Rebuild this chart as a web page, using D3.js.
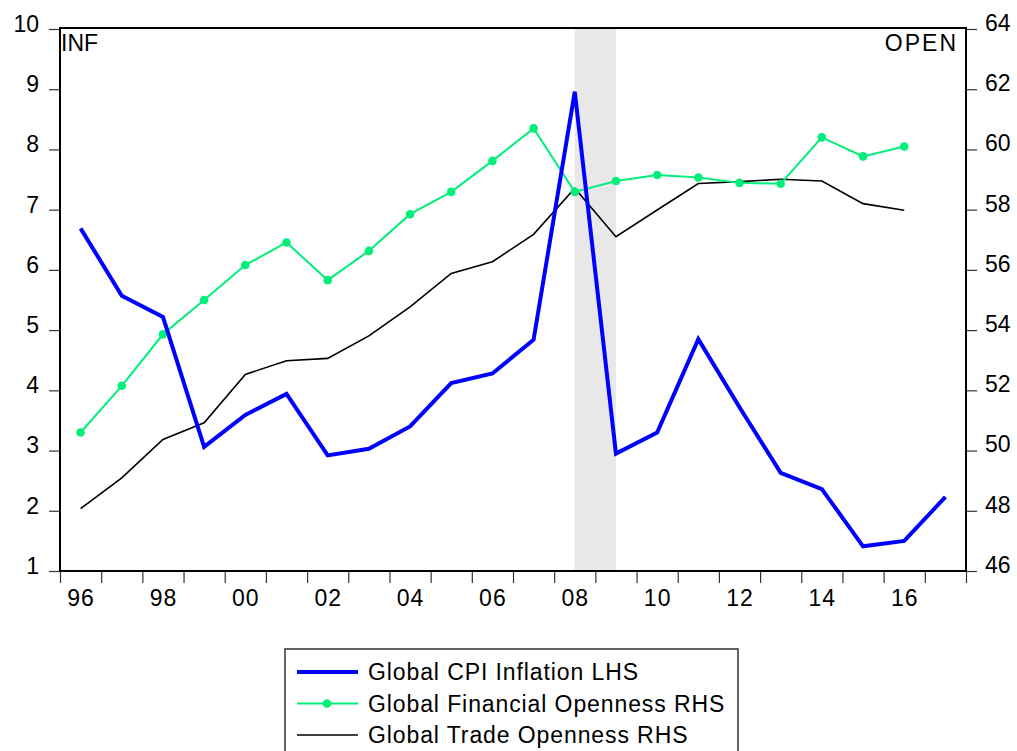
<!DOCTYPE html>
<html>
<head>
<meta charset="utf-8">
<script src="https://cdn.jsdelivr.net/npm/d3@7"></script>
<style>
  body { margin: 0; background: #fff; }
  svg text { font-family: "Liberation Sans", Arial, sans-serif; fill: #000; }
</style>
</head>
<body>
<div id="chart"></div>
<script>
const width = 1017;
const height = 751;

// data
const years = d3.range(1996, 2018);
const cpiInflation = [6.69, 5.57, 5.22, 3.06, 3.59, 3.94, 2.92, 3.03, 3.40, 4.12, 4.28, 4.84,
  8.96, 2.95, 3.30, 4.85, 3.72, 2.63, 2.36, 1.41, 1.50, 2.23];
const finOpenness = [50.60, 52.15, 53.86, 55.00, 56.16, 56.91, 55.66, 56.63, 57.85, 58.59, 59.62, 60.70,
  58.59, 58.95, 59.15, 59.07, 58.89, 58.86, 60.40, 59.77, 60.10];
const tradeOpenness = [48.07, 49.09, 50.37, 50.92, 52.53, 52.98, 53.06, 53.81, 54.77, 55.88, 56.27, 57.18,
  58.71, 57.10, 57.99, 58.87, 58.93, 59.01, 58.95, 58.20, 57.98];
const recession = [2008, 2009];
const leftTicks = d3.range(1, 11);
const rightTicks = d3.range(46, 65, 2);
const xLabelYears = d3.range(1996, 2017, 2);
const legendLabels = ["Global CPI Inflation LHS", "Global Financial Openness RHS", "Global Trade Openness RHS"];

const plot = { left: 60, right: 966, top: 28, bottom: 571 };
const fontSize = "23px";

const svg = d3.select("#chart")
  .append("svg")
  .attr("width", width)
  .attr("height", height);

// year i covers [i, i+1], the point sits in the middle
const x = d3.scaleLinear().domain([1996, 2018]).range([plot.left, plot.right]);
const yL = d3.scaleLinear().domain([1, 10]).range([plot.bottom, plot.top + 1]);
const yR = d3.scaleLinear().domain([46, 64]).range([plot.bottom, plot.top + 1]);

// shaded period
svg.append("rect")
  .attr("x", x(recession[0] + 0.5))
  .attr("y", plot.top)
  .attr("width", x(recession[1] + 0.5) - x(recession[0] + 0.5))
  .attr("height", plot.bottom - plot.top)
  .attr("fill", "#e8e8e8");

// axes
const leftAxis = svg.append("g")
  .attr("transform", `translate(${plot.left},0)`)
  .call(d3.axisLeft(yL).tickValues(leftTicks).tickSize(11).tickPadding(10).tickFormat(d3.format("d")));
leftAxis.selectAll("text").attr("y", -5).style("font-size", fontSize);

const rightAxis = svg.append("g")
  .attr("transform", `translate(${plot.right},0)`)
  .call(d3.axisRight(yR).tickValues(rightTicks).tickSize(11).tickPadding(8).tickFormat(d3.format("d")));
rightAxis.selectAll("text").attr("y", -6).style("font-size", fontSize);

const bottomAxis = svg.append("g")
  .attr("transform", `translate(0,${plot.bottom})`)
  .call(d3.axisBottom(x).tickValues(d3.range(1996, 2019)).tickSize(12).tickFormat(""));

const labelAxis = svg.append("g")
  .attr("transform", `translate(0,${plot.bottom})`)
  .call(d3.axisBottom(x).tickValues(xLabelYears.map(d => d + 0.5)).tickSize(0).tickPadding(19)
    .tickFormat(d => String(Math.floor(d) % 100).padStart(2, "0")));
labelAxis.selectAll("text").style("font-size", fontSize).style("letter-spacing", "1px");
labelAxis.select(".domain").remove();

[leftAxis, rightAxis, bottomAxis].forEach(g => {
  g.select(".domain").remove();
  g.selectAll(".tick line").attr("stroke", "#333").attr("stroke-width", 1.2);
});

// frame
svg.append("rect")
  .attr("x", plot.left)
  .attr("y", plot.top)
  .attr("width", plot.right - plot.left)
  .attr("height", plot.bottom - plot.top)
  .attr("fill", "none")
  .attr("stroke", "#000")
  .attr("stroke-width", 2);

svg.append("text").attr("x", plot.left + 1).attr("y", 51).style("font-size", fontSize).text("INF");
svg.append("text").attr("x", plot.right - 8).attr("y", 51).attr("text-anchor", "end")
  .style("font-size", fontSize).style("letter-spacing", "2px").text("OPEN");

// lines
const lineL = d3.line().x((d, i) => x(years[i] + 0.5)).y(d => yL(d));
const lineR = d3.line().x((d, i) => x(years[i] + 0.5)).y(d => yR(d));

svg.append("path")
  .datum(tradeOpenness)
  .attr("d", lineR)
  .attr("fill", "none")
  .attr("stroke", "#000")
  .attr("stroke-width", 1.6);

svg.append("path")
  .datum(finOpenness)
  .attr("d", lineR)
  .attr("fill", "none")
  .attr("stroke", "#00ee7a")
  .attr("stroke-width", 2);

svg.append("g")
  .selectAll("circle")
  .data(finOpenness)
  .enter().append("circle")
  .attr("cx", (d, i) => x(years[i] + 0.5))
  .attr("cy", d => yR(d))
  .attr("r", 4.3)
  .attr("fill", "#00ee7a");

svg.append("path")
  .datum(cpiInflation)
  .attr("d", lineL)
  .attr("fill", "none")
  .attr("stroke", "#0000ff")
  .attr("stroke-width", 4);

// legend
const legend = svg.append("g");
legend.append("rect")
  .attr("x", 285)
  .attr("y", 649)
  .attr("width", 453)
  .attr("height", 120)
  .attr("fill", "#fff")
  .attr("stroke", "#333")
  .attr("stroke-width", 1.5);

const legendStyle = [
  { color: "#0000ff", w: 4, dot: false },
  { color: "#00ee7a", w: 2, dot: true },
  { color: "#000", w: 1.6, dot: false }
];
legendLabels.forEach((label, i) => {
  const cy = 672 + i * 31.5;
  legend.append("line")
    .attr("x1", 297).attr("x2", 358)
    .attr("y1", cy).attr("y2", cy)
    .attr("stroke", legendStyle[i].color)
    .attr("stroke-width", legendStyle[i].w);
  if (legendStyle[i].dot) {
    legend.append("circle").attr("cx", 327).attr("cy", cy).attr("r", 4.3).attr("fill", legendStyle[i].color);
  }
  legend.append("text")
    .attr("x", 368)
    .attr("y", cy + 8)
    .style("font-size", fontSize)
    .style("letter-spacing", "0.9px")
    .text(label);
});
</script>
</body>
</html>
